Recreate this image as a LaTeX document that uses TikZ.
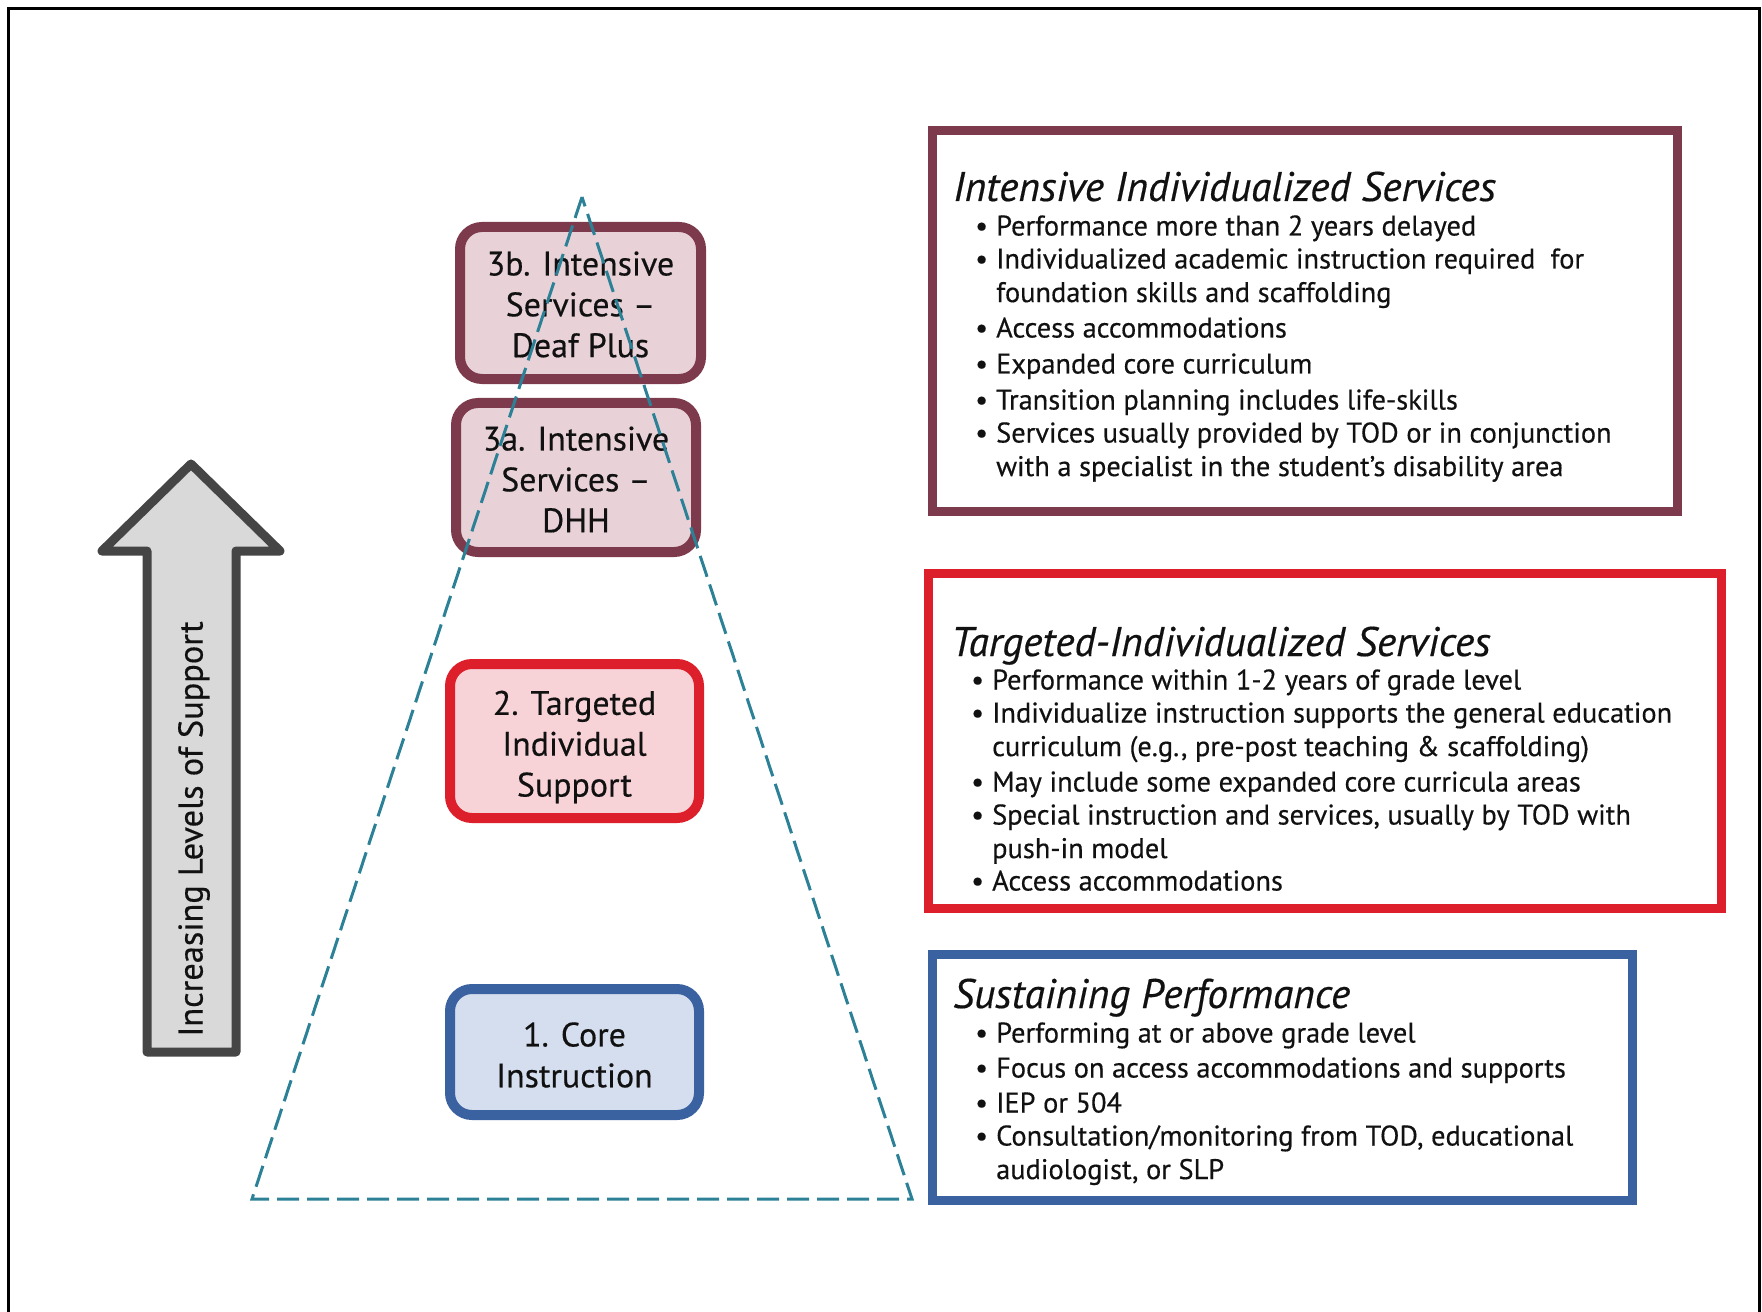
\documentclass[tikz,border=0pt]{standalone}
\usepackage{fontspec}
\setmainfont{PT Sans}[FakeBold=0.4]
\definecolor{mar}{HTML}{7E3A4D}
\definecolor{marfill}{HTML}{E8D2D8}
\definecolor{redb}{HTML}{DD1E2B}
\definecolor{redfill}{HTML}{F7D3D7}
\definecolor{blueb}{HTML}{3A62A0}
\definecolor{bluefill}{HTML}{D5DEEE}
\definecolor{teal2}{HTML}{2C8197}
\definecolor{arrowline}{HTML}{454545}
\definecolor{arrowfill}{HTML}{D9D9D9}
\definecolor{txt}{HTML}{111111}
\newcommand\bodyf{\fontsize{28.5}{33.7}\selectfont}
\newcommand\titlef{\fontsize{41.5}{46}\selectfont\itshape}
\newcommand\boxf{\fontsize{34}{41}\selectfont}
\newcommand\arrf{\fontsize{34.5}{40}\selectfont}
\newcommand\itemtab[1]{\begin{tabular}[t]{@{}l@{}l@{}}\makebox[21bp][l]{\textbullet}&#1\end{tabular}}
\begin{document}
\begin{tikzpicture}[x=1bp,y=-1bp,
  tier/.style={draw, line width=10bp, rounded corners=22bp, inner sep=0pt},
  tiertext/.style={align=center, font=\boxf, text=txt, inner sep=0pt},
  infobox/.style={draw, line width=9bp, inner sep=0pt},
  ttl/.style={anchor=base west, inner sep=0pt, font=\titlef, text=txt},
  bul/.style={anchor=base west, inner sep=0pt, font=\bodyf, text=txt},
  pyr/.style={draw=teal2, line width=3bp, dash pattern=on 22bp off 8bp}]
\useasboundingbox (0,0) rectangle (1762,1312);
% outer frame (open at bottom)
\draw[line width=3bp] (8,1330) -- (8,9) -- (1759,9) -- (1759,1330);
% arrow
\draw[draw=arrowline, fill=arrowfill, line width=9bp, line join=round]
  (191,464) -- (280,551) -- (236,551) -- (236,1052) -- (147,1052)
  -- (147,551) -- (102,551) -- cycle;
\node[rotate=90, font=\arrf, text=txt] (arrtxt) at (194,829) {Increasing Levels of Support};
% tiers
\node[tier, draw=mar, fill=marfill, minimum width=241bp, minimum height=152bp] (t3b) at (580.5,303) {};
\node[tiertext, yshift=-1.5bp] (l3b) at (t3b.center) {3b. Intensive\\Services --\\Deaf Plus};
\node[tier, draw=mar, fill=marfill, minimum width=240bp, minimum height=149bp] (t3a) at (576,477.5) {};
\node[tiertext, yshift=-2bp] (l3a) at (t3a.center) {3a. Intensive\\Services --\\DHH};
\node[tier, draw=redb, fill=redfill, minimum width=249bp, minimum height=154bp] (t2) at (574.5,741) {};
\node[tiertext, yshift=-6bp] (l2) at (t2.center) {2. Targeted\\Individual\\Support};
\node[tier, draw=blueb, fill=bluefill, minimum width=249bp, minimum height=126bp] (t1) at (574.5,1052) {};
\node[tiertext, yshift=-3bp] (l1) at (t1.center) {1. Core\\Instruction};
% pyramid
\coordinate (apex) at (582,197);
\coordinate (bl) at (252,1199);
\coordinate (br) at (912,1199);
\draw[pyr] (apex) -- (bl) -- (br) -- cycle;
% info boxes
\node[infobox, draw=mar, minimum width=745bp, minimum height=380bp] (bI) at (1304.5,321) {};
\node[infobox, draw=redb, minimum width=793bp, minimum height=335bp] (bT) at (1324.5,740.5) {};
\node[infobox, draw=blueb, minimum width=700bp, minimum height=246bp] (bS) at (1282,1077) {};
% Intensive text
\node[ttl] (hI) at (953,201) {Intensive Individualized Services};
\node[bul] (i1) at (975,235.5) {\itemtab{Performance more than 2 years delayed}};
\node[bul] (i2) at (975,268.5) {\itemtab{Individualized academic instruction required\ \ for\\ & foundation skills and scaffolding}};
\node[bul] (i3) at (975,337.5) {\itemtab{Access accommodations}};
\node[bul] (i4) at (975,373.5) {\itemtab{Expanded core curriculum}};
\node[bul] (i5) at (975,409.5) {\itemtab{Transition planning includes life-skills}};
\node[bul] (i6) at (975,442.5) {\itemtab{Services usually provided by TOD or in conjunction\\ & with a specialist in the student's disability area}};
% Targeted text
\node[ttl] (hT) at (951,656) {Targeted-Individualized Services};
\node[bul] (g1) at (971,689.5) {\itemtab{Performance within 1-2 years of grade level}};
\node[bul] (g2) at (971,722.5) {\itemtab{Individualize instruction supports the general education\\ & curriculum (e.g., pre-post teaching \& scaffolding)}};
\node[bul] (g3) at (971,791.5) {\itemtab{May include some expanded core curricula areas}};
\node[bul] (g4) at (971,824.5) {\itemtab{Special instruction and services, usually by TOD with\\ & push-in model}};
\node[bul] (g5) at (971,890.5) {\itemtab{Access accommodations}};
% Sustaining text
\node[ttl] (hS) at (953,1008) {Sustaining Performance};
\node[bul] (s1) at (975,1042.5) {\itemtab{Performing at or above grade level}};
\node[bul] (s2) at (975,1077.5) {\itemtab{Focus on access accommodations and supports}};
\node[bul] (s3) at (975,1112.5) {\itemtab{IEP or 504}};
\node[bul] (s4) at (975,1145.5) {\itemtab{Consultation/monitoring from TOD, educational\\ & audiologist, or SLP}};
\end{tikzpicture}
\end{document}
